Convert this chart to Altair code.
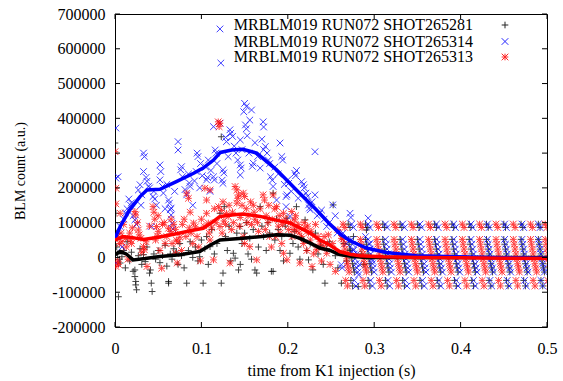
import altair as alt
import pandas as pd

# ---------------- data (time in s, counts in thousands) ----------------
black_early = [
    (0.000, 329), (0.001, 127), (0.002, 70), (0.002, 30), (0.003, 10), (0.004, -113), (0.005, -5), (0.006, -16),
    (0.008, 2), (0.010, 20), (0.012, -30), (0.014, 45), (0.017, -10), (0.019, 15), (0.021, -40), (0.023, -36),
    (0.023, -55), (0.024, -69), (0.024, -79), (0.025, -93), (0.027, 5), (0.029, 25), (0.031, -20), (0.033, 8),
    (0.035, -12), (0.037, 30), (0.040, -45), (0.041, -36), (0.042, -74), (0.043, -98), (0.045, 10), (0.047, -5),
    (0.050, 20), (0.052, -15), (0.055, 5), (0.058, 35), (0.060, -25), (0.062, -69), (0.062, -74), (0.064, 10),
    (0.066, -5), (0.068, 25), (0.071, 15), (0.073, -20), (0.075, 40), (0.077, 5), (0.080, -30), (0.083, -74),
    (0.085, 20), (0.087, 45), (0.090, 0), (0.093, 30), (0.096, -10), (0.098, 2), (0.100, 50), (0.102, -74),
    (0.104, 25), (0.106, 60), (0.108, -20), (0.110, 31), (0.112, 80), (0.115, 10), (0.118, 40), (0.1215, 127),
    (0.123, 347), (0.123, -74), (0.125, -45), (0.1265, 146), (0.128, 60), (0.130, 20), (0.132, 90), (0.134, -10),
    (0.137, 12), (0.139, -2), (0.141, 70), (0.143, -36), (0.1447, 89), (0.145, -20), (0.147, 40), (0.150, 70),
    (0.152, 100), (0.154, 10), (0.156, 55), (0.158, -5), (0.160, 80), (0.162, -36), (0.164, -45), (0.166, 30),
    (0.168, 146), (0.170, 90), (0.172, 60), (0.175, 20), (0.177, 100), (0.179, 70), (0.181, -40), (0.183, 185),
    (0.183, -40), (0.185, 50), (0.187, 110), (0.189, 80), (0.191, 20), (0.193, 60), (0.195, -10), (0.197, 90),
    (0.199, 113), (0.2025, 12), (0.204, 60), (0.206, 40), (0.208, 75), (0.210, 146), (0.212, 30), (0.214, -5),
    (0.216, 55), (0.218, 50), (0.220, 108), (0.222, 20), (0.224, -7), (0.226, 40), (0.229, -36), (0.232, 70),
    (0.235, 10), (0.238, 35), (0.241, -20), (0.243, -74), (0.245, 25), (0.248, 45), (0.2525, 151), (0.255, 5),
    (0.258, -30), (0.262, -74), (0.265, 40), (0.268, -10), (0.272, 20), (0.276, 60), (0.2815, -84), (0.285, 10),
    (0.288, -20), (0.291, 79),
]

blue_early = [
    (0.001, 372), (0.001, 228), (0.001, -16), (0.003, 60), (0.0035, 232), (0.006, 89), (0.008, 30), (0.010, 110),
    (0.012, 128), (0.014, 140), (0.016, 168), (0.019, 157), (0.018, 150), (0.021, 120), (0.023, 108), (0.025, 95),
    (0.027, 194), (0.029, 209), (0.031, 180), (0.033, 300), (0.034, 290), (0.033, 247), (0.036, 230), (0.037, 219),
    (0.039, 205), (0.042, 89), (0.044, 175), (0.046, 168), (0.048, 150), (0.052, 266), (0.053, 247), (0.052, 223),
    (0.055, 204), (0.056, 185), (0.058, 140), (0.062, 165), (0.063, 156), (0.065, 142), (0.064, 137), (0.065, 122),
    (0.066, 98), (0.067, 82), (0.073, 333), (0.073, 309), (0.077, 261), (0.076, 252), (0.078, 232), (0.081, 195),
    (0.083, 180), (0.087, 204), (0.086, 214), (0.090, 150), (0.095, 300), (0.096, 290), (0.094, 247), (0.099, 270),
    (0.101, 235), (0.106, 223), (0.107, 230), (0.110, 190), (0.114, 376), (0.116, 309), (0.117, 300), (0.114, 232),
    (0.115, 223), (0.1215, 657), (0.1225, 559), (0.1215, 386), (0.125, 252), (0.126, 243), (0.125, 213), (0.124, 222),
    (0.129, 333), (0.128, 345), (0.133, 367), (0.134, 357), (0.136, 348), (0.140, 300), (0.145, 338), (0.145, 266),
    (0.146, 257), (0.145, 237), (0.150, 443), (0.152, 434), (0.158, 424), (0.149, 419), (0.156, 395), (0.151, 381),
    (0.152, 370), (0.160, 271), (0.159, 262), (0.168, 257), (0.1715, 390), (0.172, 375), (0.174, 319), (0.172, 310),
    (0.1775, 280), (0.179, 270), (0.180, 232), (0.182, 222), (0.183, 204), (0.187, 165), (0.191, 329), (0.193, 290),
    (0.194, 280), (0.198, 175), (0.199, 180), (0.198, 146), (0.200, 223), (0.201, 213), (0.2025, 118), (0.208, 242),
    (0.209, 235), (0.210, 250), (0.216, 218), (0.218, 209), (0.219, 200), (0.221, 185), (0.223, 176), (0.224, 151),
    (0.225, 142), (0.226, 137), (0.2315, 304), (0.2315, 180), (0.237, 127), (0.239, 136), (0.245, 89), (0.252, 151),
    (0.255, 120), (0.262, -21), (0.263, -30), (0.264, 70), (0.268, 40), (0.272, 127), (0.273, 115), (0.276, 20),
    (0.280, 10), (0.282, -50), (0.283, -20), (0.290, 60), (0.293, 113), (0.295, 40), (0.298, -10),
    (0.105, 260), (0.108, 280), (0.111, 250), (0.118, 270), (0.131, 290), (0.138, 320), (0.142, 280), (0.147, 310),
    (0.153, 350), (0.155, 300), (0.162, 330), (0.165, 290), (0.170, 340), (0.176, 300), (0.185, 260), (0.189, 240),
    (0.196, 210), (0.204, 190), (0.212, 170), (0.228, 160), (0.234, 120), (0.242, 110), (0.248, 100), (0.257, 70),
    (0.030, 150), (0.040, 200), (0.045, 190), (0.060, 210), (0.069, 190), (0.085, 240), (0.092, 220), (0.098, 200),
]

red_early = [
    (0.000, 304), (0.001, 199), (0.001, 154), (0.002, 60), (0.001, -26), (0.003, -10), (0.004, -20), (0.005, 40),
    (0.006, 127), (0.007, 70), (0.008, 45), (0.010, 95), (0.012, 55), (0.013, 30), (0.015, -5), (0.017, 70),
    (0.018, 51), (0.019, 40), (0.020, 85), (0.023, 132), (0.024, 122), (0.026, 100), (0.027, 79), (0.028, 65),
    (0.030, 55), (0.033, 31), (0.034, 22), (0.031, 15), (0.037, -26), (0.036, 45), (0.040, 90), (0.044, 146),
    (0.045, 130), (0.046, 110), (0.048, 89), (0.050, 75), (0.049, 62), (0.047, 50), (0.054, -31), (0.052, 20),
    (0.057, 100), (0.060, 60), (0.062, 84), (0.064, 75), (0.066, 40), (0.068, 95), (0.071, 50), (0.073, 45),
    (0.075, 58), (0.070, 12), (0.072, -16), (0.077, 20), (0.080, 110), (0.083, 185), (0.085, 170), (0.087, 130),
    (0.088, 70), (0.090, 40), (0.091, 99), (0.093, 88), (0.095, 60), (0.097, 30), (0.099, -10), (0.104, 199),
    (0.106, 165), (0.106, 127), (0.108, 99), (0.110, 194), (0.110, 50), (0.112, 85), (0.114, -7), (0.115, 140),
    (0.1195, 390), (0.1205, 376), (0.1215, 386), (0.120, 146), (0.123, 135), (0.1215, 89), (0.124, 70), (0.126, 105),
    (0.129, 127), (0.131, 118), (0.133, -16), (0.135, 80), (0.137, 100), (0.139, 204), (0.141, 194), (0.141, 156),
    (0.142, 170), (0.143, 180), (0.145, 115), (0.1485, 185), (0.150, 175), (0.1485, 60), (0.150, 40), (0.152, 140),
    (0.154, 120), (0.156, 31), (0.158, 95), (0.160, 150), (0.162, 110), (0.164, -7), (0.166, 75), (0.1715, 180),
    (0.173, 165), (0.175, 120), (0.177, 100), (0.179, 60), (0.181, 30), (0.183, 180), (0.185, 140), (0.187, 146),
    (0.189, 90), (0.191, 70), (0.193, 40), (0.195, 127), (0.195, 12), (0.197, 110), (0.199, -7), (0.2045, 132),
    (0.203, 100), (0.206, 80), (0.208, 108), (0.210, 79), (0.212, 95), (0.214, -16), (0.216, 60), (0.218, 40),
    (0.220, 85), (0.222, 20), (0.224, 70), (0.226, 50), (0.228, -26), (0.230, 10), (0.233, 22), (0.235, 60),
    (0.237, 45), (0.239, -10), (0.241, 30), (0.245, 12), (0.247, 65), (0.249, -20), (0.252, 40), (0.255, -40),
    (0.258, 80), (0.262, 55),
    (0.100, 110), (0.103, 90), (0.109, 70), (0.117, 100), (0.125, 160), (0.128, 95), (0.132, 150), (0.136, 130),
    (0.144, 90), (0.147, 150), (0.153, 100), (0.157, 160), (0.161, 130), (0.165, 100), (0.168, 140), (0.174, 80),
    (0.178, 150), (0.182, 110), (0.186, 60), (0.190, 120), (0.194, 95), (0.201, 80), (0.205, 60), (0.209, 120),
    (0.213, 70), (0.219, 100), (0.223, 90), (0.227, 75), (0.232, 95), (0.236, 30), (0.242, 60), (0.246, 40),
    (0.050, 120), (0.055, 95), (0.058, 40), (0.065, 110), (0.070, 80), (0.078, 95), (0.082, 60), (0.086, 85),
]

# late-time streak shape (offset in s, value in thousands) and streak start times
tail_dt = [0.000, 0.002, 0.000, 0.001, 0.002, 0.003, 0.004, 0.005, 0.006, 0.007, 0.003, 0.005]
tail_v = [96, 86, 52, 38, 24, 10, -4, -18, -30, -42, -66, -82]
black_tail_start = [0.270, 0.290, 0.310, 0.330, 0.350, 0.370, 0.390, 0.410, 0.430, 0.450, 0.470, 0.490]
blue_tail_start = [0.274, 0.293, 0.313, 0.333, 0.353, 0.372, 0.392, 0.412, 0.431, 0.451, 0.471, 0.490]
red_tail_start = [0.264, 0.284, 0.303, 0.323, 0.343, 0.363, 0.382, 0.402, 0.422, 0.441, 0.461, 0.481, 0.498]

# smoothed curves
black_line_t = [0, 0.006, 0.013, 0.021, 0.035, 0.052, 0.075, 0.098, 0.11, 0.1215, 0.148, 0.17, 0.187, 0.2025,
                0.214, 0.226, 0.237, 0.249, 0.26, 0.275, 0.291, 0.31, 0.35, 0.4, 0.45, 0.5]
black_line_v = [8, 17, 10, -7, -3, 3, 8, 17, 35, 50, 55, 60, 65, 64, 55, 41, 27, 20, 8, 3, 0, 0, 0, 0, 0, 0]
blue_line_t = [0, 0.006, 0.017, 0.029, 0.037, 0.052, 0.071, 0.091, 0.102, 0.114, 0.122, 0.135, 0.148, 0.164,
               0.187, 0.21, 0.233, 0.249, 0.262, 0.272, 0.291, 0.314, 0.349, 0.407, 0.45, 0.5]
blue_line_v = [55, 89, 137, 175, 194, 196, 218, 242, 257, 280, 302, 309, 311, 300, 252, 194, 137, 95, 65, 48,
               27, 14, 5, 1, -1, -2]
red_line_t = [0, 0.009, 0.02, 0.033, 0.05, 0.071, 0.09, 0.102, 0.112, 0.1215, 0.135, 0.148, 0.168, 0.185,
              0.2025, 0.214, 0.226, 0.237, 0.249, 0.26, 0.272, 0.284, 0.31, 0.35, 0.4, 0.45, 0.5]
red_line_v = [50, 60, 57, 52, 58, 68, 78, 84, 100, 118, 122, 125, 118, 108, 99, 85, 70, 50, 35, 17, 9, 5, 2,
              0, -1, -2, -3]

legend_labels = ["MRBLM019 RUN072 SHOT265281", "MRBLM019 RUN072 SHOT265314", "MRBLM019 RUN072 SHOT265313"]
x_ticks = [0, 0.1, 0.2, 0.3, 0.4, 0.5]
y_ticks = [-200000, -100000, 0, 100000, 200000, 300000, 400000, 500000, 600000, 700000]

# ---------------- tables ----------------
def points_df(early, starts):
    rows = [{"t": t, "v": v * 1000} for t, v in early]
    for s in starts:
        for dt, v in zip(tail_dt, tail_v):
            rows.append({"t": s + dt, "v": v * 1000})
    return pd.DataFrame(rows)

def line_df(ts, vs):
    return pd.DataFrame({"t": ts, "v": [v * 1000 for v in vs]})

black_pts = points_df(black_early, black_tail_start)
blue_pts = points_df(blue_early, blue_tail_start)
red_pts = points_df(red_early, red_tail_start)

FONT = "Liberation Serif"
W, H = 432, 313

X = alt.X("t:Q", scale=alt.Scale(domain=[0, 0.5], nice=False, zero=False),
          axis=alt.Axis(values=x_ticks, format="~g", labelFlush=False, labelPadding=13,
                        title="time from K1 injection (s)", titlePadding=6))
Y = alt.Y("v:Q", scale=alt.Scale(domain=[-200000, 700000], nice=False, zero=False),
          axis=alt.Axis(values=y_ticks, labelExpr="datum.value + ''", labelFlush=False, labelPadding=10,
                        title="BLM count (a.u.)", titlePadding=24, titleFontSize=14))

PLUS = "M-1,0L1,0M0,-1L0,1"
CROSS = "M-1,-1L1,1M-1,1L1,-1"
STAR = "M-1,-1L1,1M-1,1L1,-1M-1,0L1,0M0,-1L0,1"

def pts(df, shape, color):
    return alt.Chart(df).mark_point(shape=shape, size=44, filled=False, strokeWidth=1, color=color,
                                    opacity=0.75, clip=True).encode(x=X, y=Y)

def line(ts, vs, color):
    return alt.Chart(line_df(ts, vs)).mark_line(color=color, strokeWidth=3.5, clip=True).encode(x=X, y=Y)

xt = pd.DataFrame({"t": x_ticks})
yt = pd.DataFrame({"v": y_ticks})
tick_layers = [
    alt.Chart(xt).mark_rule(color="black", strokeWidth=1).encode(x=X, y=alt.value(H), y2=alt.value(H - 5)),
    alt.Chart(xt).mark_rule(color="black", strokeWidth=1).encode(x=X, y=alt.value(0), y2=alt.value(5)),
    alt.Chart(yt).mark_rule(color="black", strokeWidth=1).encode(y=Y, x=alt.value(0), x2=alt.value(5)),
    alt.Chart(yt).mark_rule(color="black", strokeWidth=1).encode(y=Y, x=alt.value(W), x2=alt.value(W - 5)),
]

leg_rows = [11, 27.5, 43]
leg_shapes = [PLUS, CROSS, STAR]
leg_colors = ["black", "#0000ff", "#ff0000"]
legend_layers = []
for lab, yy, shp, col in zip(legend_labels, leg_rows, leg_shapes, leg_colors):
    d = pd.DataFrame({"label": [lab]})
    legend_layers.append(
        alt.Chart(d).mark_text(align="right", baseline="middle", font=FONT, fontSize=16, color="black")
        .encode(text="label:N", x=alt.value(358), y=alt.value(yy)))
    legend_layers.append(
        alt.Chart(d).mark_point(shape=shp, size=44, filled=False, strokeWidth=1, color=col, opacity=0.85)
        .encode(x=alt.value(390), y=alt.value(yy)))

chart = alt.layer(
    pts(black_pts, PLUS, "black"),
    pts(blue_pts, CROSS, "#0000ff"),
    pts(red_pts, STAR, "#ff0000"),
    line(black_line_t, black_line_v, "black"),
    line(blue_line_t, blue_line_v, "#0000ff"),
    line(red_line_t, red_line_v, "#ff0000"),
    *tick_layers,
    *legend_layers,
).properties(
    width=W, height=H,
    autosize=alt.AutoSizeParams(type="none"),
    padding={"left": 115, "top": 14, "right": 16, "bottom": 54},
).configure(
    background="white", font=FONT
).configure_view(
    stroke="black", strokeWidth=1
).configure_axis(
    grid=False, ticks=False, domain=False,
    labelFont=FONT, labelFontSize=16, labelColor="black", labelFontWeight="normal",
    titleFont=FONT, titleFontSize=16, titleColor="black", titleFontWeight="normal",
)

chart.save("out.html", embed_options={"renderer": "svg", "actions": False})
